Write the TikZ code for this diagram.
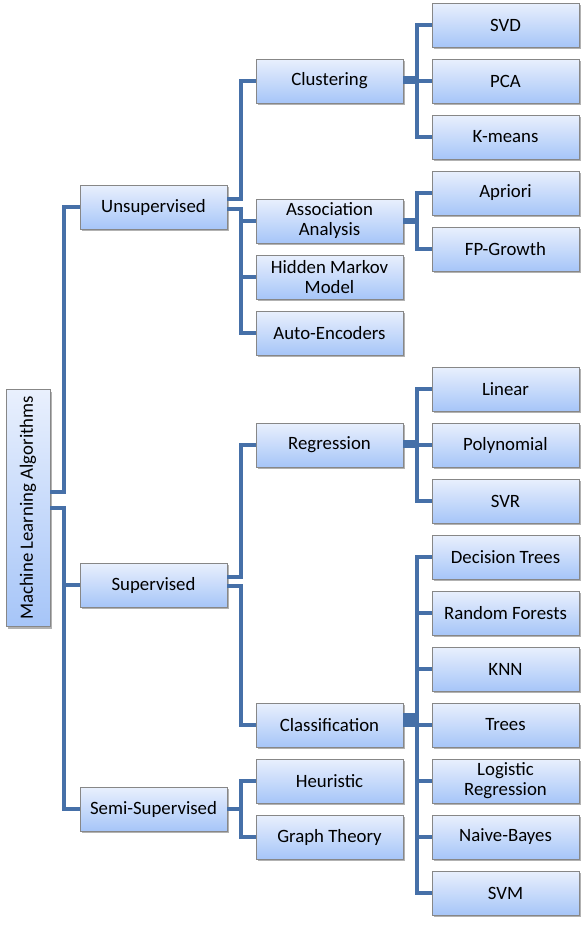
\documentclass[tikz,border=0pt]{standalone}
\usepackage{fontspec}
\usepackage{graphicx}
\setmainfont{Carlito}
\usetikzlibrary{positioning,calc,shadows}

\definecolor{linkblue}{RGB}{70,112,168}
\definecolor{boxtop}{RGB}{233,240,253}
\definecolor{boxbot}{RGB}{166,197,248}
\definecolor{boxline}{RGB}{135,135,135}

\begin{document}
\begin{tikzpicture}[x=1pt, y=-1pt,
  node distance=12pt and 29pt,
  box/.style={
    draw=boxline,
    line width=0.8pt,
    top color=boxtop,
    bottom color=boxbot,
    align=center,
    font=\fontsize{18.8}{20}\selectfont,
    minimum width=147pt,
    minimum height=44pt,
    inner sep=1pt,
    outer sep=0pt,
    drop shadow={shadow xshift=1.5pt, shadow yshift=-2pt, opacity=0.3, fill=black}
  },
  leaf/.style={box},
  rootbox/.style={box, minimum width=44pt, minimum height=237pt},
  link/.style={draw=linkblue, line width=4pt},
  stub/.style={draw=linkblue, line width=#1},
  stub/.default=8pt
]
\useasboundingbox (0,0) rectangle (586,926);

% right column
\node[leaf] (svd) at (505.5,25) {SVD};
\node[leaf, below=of svd] (pca) {PCA};
\node[leaf, below=of pca] (kmeans) {K-means};
\node[leaf, below=of kmeans] (apriori) {Apriori};
\node[leaf, below=of apriori] (fpgrowth) {FP-Growth};
\node[leaf, below=96pt of fpgrowth] (linear) {Linear};
\node[leaf, below=of linear] (poly) {Polynomial};
\node[leaf, below=of poly] (svr) {SVR};
\node[leaf, below=of svr] (dtree) {Decision Trees};
\node[leaf, below=of dtree] (rforest) {Random Forests};
\node[leaf, below=of rforest] (knn) {KNN};
\node[leaf, below=of knn] (trees) {Trees};
\node[leaf, below=of trees] (logreg) {Logistic\\Regression};
\node[leaf, below=of logreg] (nbayes) {Naive-Bayes};
\node[leaf, below=of nbayes] (svm) {SVM};

% middle column
\node[box, left=of pca] (clust) {Clustering};
\node[box, left=of apriori, yshift=-28pt] (assoc) {Association\\Analysis};
\node[box, below=of assoc] (hmm) {Hidden Markov\\Model};
\node[box, below=of hmm] (autoenc) {Auto-Encoders};
\node[box, left=of poly] (regr) {Regression};
\node[box, left=of trees] (classif) {Classification};
\node[box, below=of classif] (heur) {Heuristic};
\node[box, below=of heur] (graph) {Graph Theory};

% left column
\coordinate (unsupmid) at ($(clust.west)!.5!(autoenc.west)$);
\coordinate (supmid) at ($(regr.west)!.5!(classif.west)$);
\coordinate (semimid) at ($(heur.west)!.5!(graph.west)$);
\node[box, left=of unsupmid] (unsup) {Unsupervised};
\node[box, left=of supmid] (sup) {Supervised};
\node[box, left=of semimid] (semi) {Semi-Supervised};

\coordinate (mlmid) at ($(unsup.west)!.5!(semi.west)$);
\node[rootbox, left=30pt of mlmid] (root) {\rotatebox{90}{Machine Learning Algorithms}};

% connectors
\draw[link] ([yshift=16pt]root.east) -- ++(14,0) |- (unsup.west);
\draw[link] (root.east) -- ++(14,0) coordinate (rj) |- (semi.west) (rj) |- (sup.west);

\draw[link] ([yshift=8pt]unsup.east) -- ++(14,0) |- (clust.west);
\draw[link] ([yshift=-2pt]unsup.east) -- ++(14,0) coordinate (uj)
  |- (autoenc.west) (uj) |- (assoc.west) (uj) |- (hmm.west);

\draw[link] ([yshift=8pt]sup.east) -- ++(14,0) |- (regr.west);
\draw[link] ([yshift=-1pt]sup.east) -- ++(14,0) |- (classif.west);

\draw[link] (semi.east) -- ++(14,0) coordinate (sj) |- (heur.west) (sj) |- (graph.west);

\draw[stub=8pt] ([yshift=1pt]clust.east) -- ++(14,0) coordinate (cj);
\draw[link] (cj) |- (svd.west) (cj) |- (pca.west) (cj) |- (kmeans.west);

\draw[stub=6pt] (assoc.east) -- ++(14,0) coordinate (aj);
\draw[link] (aj) |- (apriori.west) (aj) |- (fpgrowth.west);

\draw[stub=8pt] ([yshift=1pt]regr.east) -- ++(14,0) coordinate (gj);
\draw[link] (gj) |- (linear.west) (gj) |- (poly.west) (gj) |- (svr.west);

\draw[stub=14pt] ([yshift=5pt]classif.east) -- ++(14,0) coordinate (kj);
\draw[link] (kj) |- (dtree.west) (kj) |- (rforest.west) (kj) |- (knn.west)
  (kj) |- (trees.west) (kj) |- (logreg.west) (kj) |- (nbayes.west) (kj) |- (svm.west);
\end{tikzpicture}
\end{document}
